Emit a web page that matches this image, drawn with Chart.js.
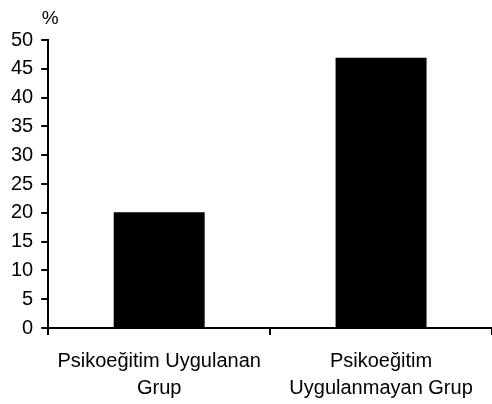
<!DOCTYPE html>
<html>
<head>
<meta charset="utf-8">
<script src="https://cdn.jsdelivr.net/npm/chart.js@4/dist/chart.umd.min.js"></script>
<style>
  html, body { margin: 0; padding: 0; background: #fff; }
  #c { display: block; }
</style>
</head>
<body>
<canvas id="c" width="492" height="404"></canvas>
<script>
const groups = [["Psikoeğitim Uygulanan", "Grup"], ["Psikoeğitim", "Uygulanmayan Grup"]]
const percents = [20.1, 46.9]
const yMax = 50, yStep = 5
const unitLabel = "%"

// draws the "%" unit above the y axis
const unitPlugin = {
    id: "unit",
    afterDraw(chart) {
        const y = chart.scales.y
        const ctx = chart.ctx
        ctx.save()
        ctx.font = "19px 'Liberation Sans', Arial, sans-serif"
        ctx.fillStyle = "#000"
        ctx.textAlign = "center"
        ctx.textBaseline = "alphabetic"
        ctx.fillText(unitLabel, y.right + 2, y.top - 16)
        ctx.restore()
    }
}

const font = { family: "'Liberation Sans', Arial, sans-serif", size: 20 }

new Chart(document.getElementById("c").getContext("2d"), {
    type: "bar",
    data: {
        labels: groups,
        datasets: [{ data: percents, backgroundColor: "#000", borderWidth: 0,
            barPercentage: 0.41, categoryPercentage: 1 }]
    },
    options: {
        responsive: false,
        animation: false,
        layout: { padding: { top: 40, left: 3, right: 0, bottom: 0 } },
        plugins: { legend: { display: false }, tooltip: { enabled: false } },
        scales: {
            x: {
                afterFit: s => { s.height = 76 },
                grid: { offset: true, drawOnChartArea: false, drawTicks: true, tickLength: 7, color: "#000", lineWidth: 2 },
                border: { display: true, color: "#000", width: 2 },
                ticks: { color: "#000", font: { ...font, lineHeight: 1.35 }, padding: 13, maxRotation: 0 }
            },
            y: {
                min: 0, max: yMax,
                grid: { drawOnChartArea: false, drawTicks: true, tickLength: 7, color: "#000", lineWidth: 2 },
                border: { display: true, color: "#000", width: 2 },
                ticks: { stepSize: yStep, color: "#000", font: font, padding: 8 }
            }
        }
    },
    plugins: [unitPlugin]
})
</script>
</body>
</html>
